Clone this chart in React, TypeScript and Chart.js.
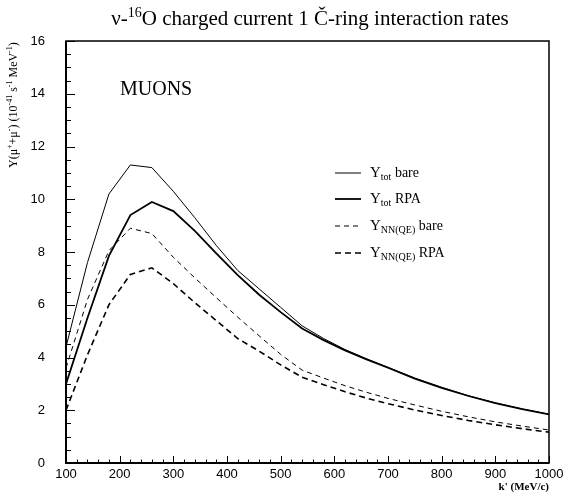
import React, { useEffect, useRef } from "react";
import Chart from "chart.js/auto";

const kValues = [100, 140, 180, 220, 260, 300, 340, 380, 420, 460, 500, 540, 580, 620, 660, 700, 750, 800, 850, 900, 950, 1000];
const yTotBare = [4.4, 7.6, 10.2, 11.3, 11.2, 10.3, 9.3, 8.25, 7.3, 6.6, 5.9, 5.2, 4.72, 4.3, 3.95, 3.63, 3.22, 2.87, 2.55, 2.28, 2.05, 1.85];
const yTotRPA = [3.0, 5.5, 7.85, 9.4, 9.9, 9.55, 8.8, 7.95, 7.12, 6.38, 5.72, 5.1, 4.66, 4.27, 3.93, 3.61, 3.2, 2.85, 2.54, 2.27, 2.04, 1.84];
const yNNBare = [3.6, 6.2, 8.05, 8.9, 8.7, 7.8, 7.02, 6.27, 5.53, 4.82, 4.12, 3.52, 3.22, 2.93, 2.68, 2.45, 2.2, 1.96, 1.75, 1.56, 1.4, 1.25];
const yNNRPA = [2.0, 4.1, 6.0, 7.15, 7.4, 6.8, 6.08, 5.4, 4.72, 4.24, 3.72, 3.25, 2.97, 2.7, 2.46, 2.25, 2.01, 1.8, 1.61, 1.45, 1.3, 1.17];

const legendLabels = [
  { main: "Y", sub: "tot", rest: " bare" },
  { main: "Y", sub: "tot", rest: " RPA" },
  { main: "Y", sub: "NN(QE)", rest: " bare" },
  { main: "Y", sub: "NN(QE)", rest: " RPA" },
];
const seriesStyles = [
  { width: 1, dash: [] as number[] },
  { width: 1.8, dash: [] as number[] },
  { width: 1, dash: [5, 4] },
  { width: 1.6, dash: [6, 4] },
];
const seriesValues = [yTotBare, yTotRPA, yNNBare, yNNRPA];

const SERIF = "'Liberation Serif', 'DejaVu Serif', serif";
const SANS = "'Liberation Sans', Arial, sans-serif";

type Part = { t: string; size: number; dy?: number; bold?: boolean };

function drawRich(ctx: CanvasRenderingContext2D, x: number, y: number, parts: Part[], align: "left" | "center" | "right") {
  let total = 0;
  const widths: number[] = [];
  for (const p of parts) {
    ctx.font = `${p.bold ? "bold " : ""}${p.size}px ${SERIF}`;
    const w = ctx.measureText(p.t).width;
    widths.push(w);
    total += w;
  }
  let cx = align === "left" ? x : align === "center" ? x - total / 2 : x - total;
  ctx.textAlign = "left";
  ctx.textBaseline = "alphabetic";
  parts.forEach((p, i) => {
    ctx.font = `${p.bold ? "bold " : ""}${p.size}px ${SERIF}`;
    ctx.fillText(p.t, cx, y + (p.dy || 0));
    cx += widths[i];
  });
}

const decorPlugin = {
  id: "decor",
  afterDraw(chart: any) {
    const ctx: CanvasRenderingContext2D = chart.ctx;
    const { left, right, top, bottom } = chart.chartArea;
    const xs = chart.scales.x;
    const ys = chart.scales.y;
    ctx.save();
    ctx.fillStyle = "#000";
    ctx.strokeStyle = "#000";
    // frame
    ctx.lineWidth = 1.5;
    ctx.setLineDash([]);
    ctx.strokeRect(left, top, right - left, bottom - top);
    ctx.lineWidth = 2;
    ctx.beginPath();
    ctx.moveTo(left, top);
    ctx.lineTo(left, bottom);
    ctx.lineTo(right, bottom);
    ctx.stroke();
    // x ticks
    ctx.lineWidth = 1;
    for (let v = 100; v <= 1000; v += 20) {
      const px = Math.round(xs.getPixelForValue(v)) + 0.5;
      const len = v % 100 === 0 ? 7 : 3.5;
      ctx.beginPath();
      ctx.moveTo(px, bottom);
      ctx.lineTo(px, bottom - len);
      ctx.stroke();
    }
    // y ticks
    for (let v = 0; v <= 16; v += 0.5) {
      const py = Math.round(ys.getPixelForValue(v)) + 0.5;
      const len = v % 2 === 0 ? 9 : 5;
      ctx.beginPath();
      ctx.moveTo(left, py);
      ctx.lineTo(left + len, py);
      ctx.stroke();
    }
    // title
    ctx.fillStyle = "#000";
    drawRich(ctx, 310, 25, [
      { t: "ν-", size: 21 },
      { t: "16", size: 14, dy: -8 },
      { t: "O charged current 1 ", size: 21 },
      { t: "Č", size: 21 },
      { t: "-ring interaction rates", size: 21 },
    ], "center");
    // MUONS
    ctx.font = `20px ${SERIF}`;
    ctx.textAlign = "left";
    ctx.fillText("MUONS", 120, 95);
    // x axis title
    drawRich(ctx, 549, 490, [{ t: "k' (MeV/c)", size: 11, bold: true }], "right");
    // y axis title (rotated)
    ctx.save();
    ctx.translate(17, 168);
    ctx.rotate(-Math.PI / 2);
    drawRich(ctx, 0, 0, [
      { t: "Y(μ", size: 12 },
      { t: "+", size: 8, dy: -5 },
      { t: "+μ", size: 12 },
      { t: "-", size: 8, dy: -5 },
      { t: ") (10", size: 12 },
      { t: "-41", size: 8, dy: -5 },
      { t: " s", size: 12 },
      { t: "-1", size: 8, dy: -5 },
      { t: " MeV", size: 12 },
      { t: "-1", size: 8, dy: -5 },
      { t: ")", size: 12 },
    ], "left");
    ctx.restore();
    // legend
    const rows = [173, 199, 226, 253];
    rows.forEach((ry, i) => {
      const st = seriesStyles[i];
      ctx.lineWidth = st.width;
      ctx.setLineDash(st.dash);
      ctx.beginPath();
      ctx.moveTo(335, ry);
      ctx.lineTo(361, ry);
      ctx.stroke();
      ctx.setLineDash([]);
      const lab = legendLabels[i];
      drawRich(ctx, 370, ry + 4, [
        { t: lab.main, size: 15 },
        { t: lab.sub, size: 10, dy: 3 },
        { t: lab.rest, size: 14 },
      ], "left");
    });
    ctx.restore();
  },
};

export default function App() {
  const ref = useRef<HTMLCanvasElement | null>(null);
  useEffect(() => {
    document.body.style.margin = "0";
    const canvas = ref.current!;
    const datasets = seriesValues.map((vals, i) => ({
      label: legendLabels[i].main + legendLabels[i].sub + legendLabels[i].rest,
      data: kValues.map((k, j) => ({ x: k, y: vals[j] })),
      borderColor: "#000",
      borderWidth: seriesStyles[i].width,
      borderDash: seriesStyles[i].dash,
      showLine: true,
      pointRadius: 0,
      fill: false,
      tension: 0,
    }));
    const chart = new Chart(canvas, {
      type: "scatter",
      data: { datasets },
      options: {
        responsive: false,
        animation: false,
        layout: { padding: { left: 0, right: 17, top: 41, bottom: 0 } },
        plugins: { legend: { display: false }, tooltip: { enabled: false }, title: { display: false } },
        scales: {
          x: {
            type: "linear",
            min: 100,
            max: 1000,
            grid: { display: false },
            border: { display: false },
            ticks: {
              stepSize: 100,
              color: "#000",
              font: { family: SANS, size: 13 },
              padding: -4,
              maxRotation: 0,
              autoSkip: false,
              callback: (v: any) => String(v),
            },
            afterFit: (s: any) => { s.height = 30; },
          },
          y: {
            min: 0,
            max: 16,
            grid: { display: false },
            border: { display: false },
            ticks: { stepSize: 2, color: "#000", font: { family: SANS, size: 13 }, padding: 13, callback: (v: any) => String(v) },
            afterFit: (s: any) => { s.width = 66; },
          },
        },
      },
      plugins: [decorPlugin],
    });
    return () => chart.destroy();
  }, []);
  return (
    <div style={{ position: "absolute", left: 0, top: 0, width: 566, height: 493, background: "#fff" }}>
      <canvas ref={ref} width={566} height={493} style={{ display: "block", width: 566, height: 493 }} />
    </div>
  );
}
